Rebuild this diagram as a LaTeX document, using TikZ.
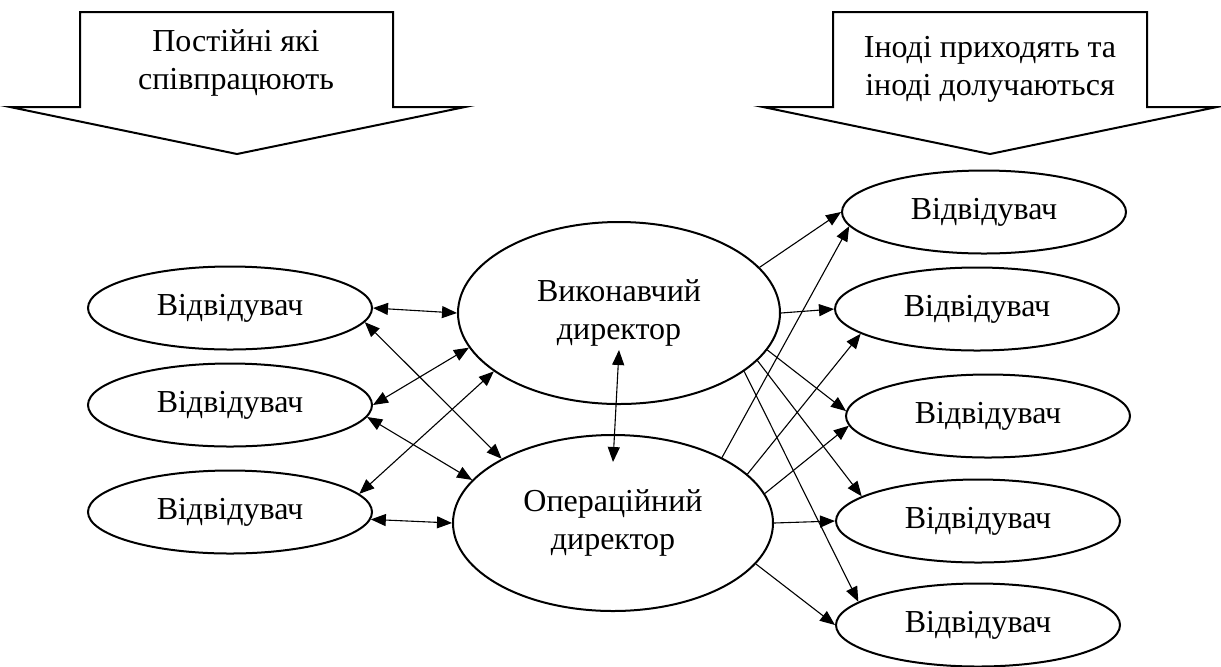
\documentclass[tikz,border=0pt]{standalone}
\usepackage{fontspec}
\setmainfont{Liberation Serif}
\usetikzlibrary{shapes.geometric,arrows.meta}

\begin{document}
\begin{tikzpicture}[x=0.5pt,y=-0.5pt,>={Triangle[length=7.5pt,width=6pt]},
        every node/.style={font=\fontsize{16}{19}\selectfont},
        visitor/.style={draw,ellipse,line width=1pt,inner sep=0pt,minimum width=142pt,minimum height=41.5pt},
        director/.style={draw,ellipse,line width=1pt,inner sep=0pt,minimum width=161pt,minimum height=91pt,align=center},
        banner/.style={draw,line width=1pt,line join=miter},
        link/.style={line width=0.55pt}]
    \useasboundingbox (0,0) rectangle (1221,666);
    % block arrows on top
    \draw[banner] (80,12) -- (393,12) -- (393,107) -- (465,107) -- (237,154) -- (10,107) -- (80,107) -- cycle;
    \node[align=center] (stay) at (236,63) {Постійні які\\співпрацюють};
    \draw[banner] (833,12) -- (1147,12) -- (1147,107) -- (1217,107) -- (990,154) -- (763,107) -- (833,107) -- cycle;
    \node[align=center] (come) at (990,69) {Іноді приходять та\\іноді долучаються};
    % directors
    \node[director] (exec) at (619,313) {Виконавчий\\директор};
    \node[director,minimum width=160pt,minimum height=88pt] (oper) at (613,523) {Операційний\\директор};
    % visitors
    \foreach \n/\y in {1/308,2/405,3/512}
        \node[visitor] (left\n) at (230,\y) {Відвідувач};
    \foreach \n/\x/\y in {1/984/212,2/977/309,3/988/416,4/978/521,5/978/625}
        \node[visitor] (right\n) at (\x,\y) {Відвідувач};
    % connectors
    \foreach \a/\b in {left1.east/exec.west, left1.-6/oper.150, left2.0/exec.193, left2.-5/oper.163, left3.8/exec.205, left3.-3/oper.west}
        \draw[link,<->] (\a) -- (\b);
    \draw[link,<->] ([yshift=27.5pt]exec.south) -- ([yshift=-14pt]oper.north);
    \foreach \a/\b in {exec.18/right1.west, exec.east/right2.west, exec.-14/right3.178, exec.-19/right4.168, exec.-25/right5.169,
                       oper.31/right1.186, oper.20/right2.192, oper.11/right3.184, oper.east/right4.west, oper.-16/right5.west}
        \draw[link,->] (\a) -- (\b);
\end{tikzpicture}
\end{document}
